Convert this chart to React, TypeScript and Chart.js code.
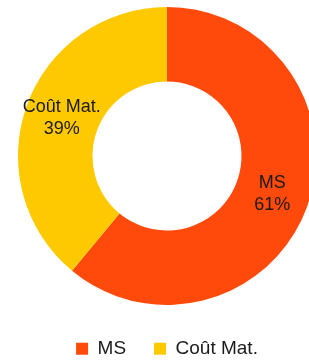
import React, { useEffect, useRef } from "react";
import { Chart, registerables } from "chart.js";

Chart.register(...registerables);

const labels = ["MS", "Coût Mat."];
const values = [61, 39];
const colors = ["#FF4A0C", "#FFC900"];

const FONT = '"Liberation Sans", Arial, sans-serif';

const sliceLabels = {
  id: "sliceLabels",
  afterDatasetsDraw(chart: any) {
    const ctx = chart.ctx;
    const meta = chart.getDatasetMeta(0);
    const data = chart.data.datasets[0].data as number[];
    const total = data.reduce((a, b) => a + b, 0);
    ctx.save();
    ctx.fillStyle = "#1a1a1a";
    ctx.font = `18px ${FONT}`;
    ctx.textAlign = "center";
    ctx.textBaseline = "middle";
    meta.data.forEach((arc: any, i: number) => {
      const p = arc.tooltipPosition();
      const pct = Math.round((data[i] / total) * 100) + "%";
      ctx.fillText(chart.data.labels[i], p.x, p.y - 11);
      ctx.fillText(pct, p.x, p.y + 11);
    });
    ctx.restore();
  },
};

export default function App() {
  const ref = useRef<HTMLCanvasElement>(null);
  useEffect(() => {
    document.body.style.margin = "0";
    document.body.style.overflow = "hidden";
    const chart = new Chart(ref.current!, {
      type: "doughnut",
      data: {
        labels,
        datasets: [
          {
            data: values,
            backgroundColor: colors,
            borderWidth: 0,
          },
        ],
      },
      options: {
        animation: false,
        responsive: false,
        cutout: "50%",
        layout: { padding: { top: 7, bottom: 11.8, left: 0, right: 0 } },
        plugins: {
          tooltip: { enabled: false },
          legend: {
            position: "bottom",
            title: {
              display: true,
              text: "",
              font: { size: 1 },
              padding: { top: 5, bottom: 0 },
            },
            labels: {
              boxWidth: 12,
              boxHeight: 12,
              padding: 28,
              color: "#1a1a1a",
              font: { size: 19, family: FONT },
            },
          },
        },
      },
      plugins: [sliceLabels],
    });
    return () => chart.destroy();
  }, []);
  return (
    <div style={{ position: "absolute", left: 0, top: 0, width: 334, height: 380, background: "#fff" }}>
      <canvas ref={ref} width={334} height={380} style={{ display: "block" }} />
    </div>
  );
}
